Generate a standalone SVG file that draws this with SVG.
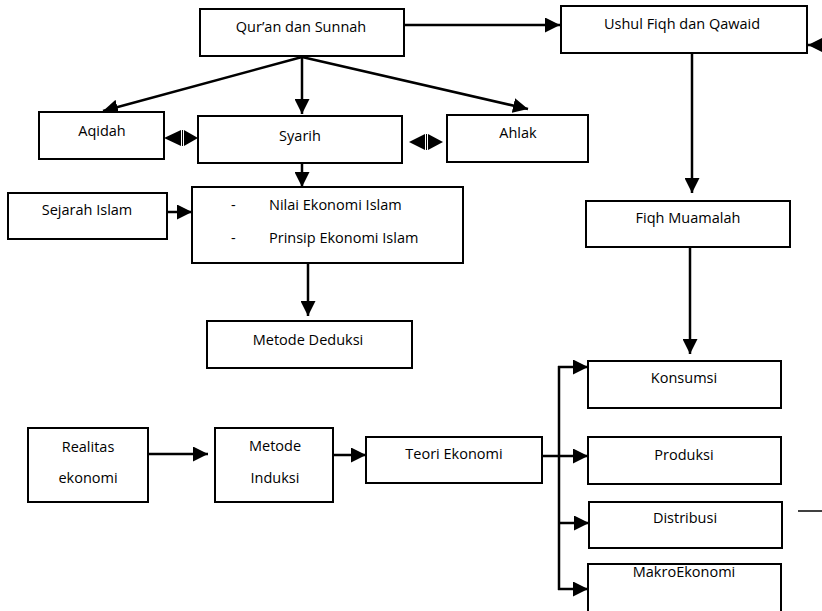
<svg xmlns="http://www.w3.org/2000/svg" width="822" height="611" viewBox="0 0 822 611">
<style>
.box{fill:#fff;stroke:#000;stroke-width:2}
.t{font-family:"Open Sans","Liberation Sans",sans-serif;font-size:14.5px;fill:#000;text-anchor:middle}
.tl{font-family:"Open Sans","Liberation Sans",sans-serif;font-size:14.5px;fill:#000}
.c{stroke:#000;stroke-width:2.5;fill:none}
.h{fill:#000}
</style>
<defs>
<marker id="ah" viewBox="0 0 10 10" refX="10" refY="5" markerWidth="15" markerHeight="15" markerUnits="userSpaceOnUse" orient="auto">
<path d="M0,0 L10,5 L0,10 z" fill="#000"/>
</marker>
</defs>
<rect width="822" height="611" fill="#fff"/>
<g id="connectors">
<line class="c" x1="405" y1="25" x2="560" y2="25" marker-end="url(#ah)"/>
<line class="c" x1="830" y1="45" x2="808" y2="45" marker-end="url(#ah)"/>
<line class="c" x1="302" y1="57" x2="103" y2="111" marker-end="url(#ah)"/>
<line class="c" x1="302" y1="57" x2="302" y2="114" marker-end="url(#ah)"/>
<line class="c" x1="302" y1="57" x2="528" y2="109" marker-end="url(#ah)"/>
<polygon class="h" points="164,138 181,130 181,146"/>
<polygon class="h" points="198,138 184,130 184,146"/>
<line stroke="#000" stroke-width="1" x1="182.5" y1="130" x2="182.5" y2="146"/>
<polygon class="h" points="409,142 425,134 425,150"/>
<polygon class="h" points="443,142 428,134 428,150"/>
<line stroke="#000" stroke-width="1" x1="426.5" y1="134" x2="426.5" y2="150"/>
<line class="c" x1="302" y1="163" x2="302" y2="187" marker-end="url(#ah)"/>
<line class="c" x1="167" y1="212" x2="192" y2="212" marker-end="url(#ah)"/>
<line class="c" x1="308" y1="263" x2="308" y2="316" marker-end="url(#ah)"/>
<line class="c" x1="692" y1="53" x2="692" y2="193" marker-end="url(#ah)"/>
<line class="c" x1="690" y1="247" x2="690" y2="354" marker-end="url(#ah)"/>
<line class="c" x1="148" y1="454" x2="208" y2="454" marker-end="url(#ah)"/>
<line class="c" x1="333" y1="455" x2="366" y2="455" marker-end="url(#ah)"/>
<line class="c" x1="542" y1="456" x2="588" y2="456" marker-end="url(#ah)"/>
<line class="c" x1="559" y1="366" x2="559" y2="590"/>
<line class="c" x1="558" y1="367" x2="588" y2="367" marker-end="url(#ah)"/>
<line class="c" x1="558" y1="523" x2="589" y2="523" marker-end="url(#ah)"/>
<line class="c" x1="558" y1="589" x2="588" y2="589" marker-end="url(#ah)"/>
<line stroke="#000" stroke-width="1.5" x1="798" y1="511" x2="822" y2="511"/>
</g>
<g id="quran"><rect class="box" x="200" y="9" width="204" height="47"/><text class="t" x="301" y="32">Qur’an dan Sunnah</text></g>
<g id="ushul"><rect class="box" x="561" y="6" width="246" height="47"/><text class="t" x="682" y="29">Ushul Fiqh dan Qawaid</text></g>
<g id="aqidah"><rect class="box" x="39" y="112" width="125" height="47"/><text class="t" x="102" y="136">Aqidah</text></g>
<g id="syarih"><rect class="box" x="198" y="116" width="204" height="47"/><text class="t" x="300" y="141">Syarih</text></g>
<g id="ahlak"><rect class="box" x="447" y="115" width="141" height="47"/><text class="t" x="518" y="138">Ahlak</text></g>
<g id="sejarah"><rect class="box" x="8" y="193" width="159" height="46"/><text class="t" x="87" y="215">Sejarah Islam</text></g>
<g id="nilai"><rect class="box" x="192" y="187" width="271" height="76"/><text class="tl" x="231" y="210">-</text><text class="tl" x="269" y="210">Nilai Ekonomi Islam</text><text class="tl" x="231" y="243">-</text><text class="tl" x="269" y="243">Prinsip Ekonomi Islam</text></g>
<g id="deduksi"><rect class="box" x="207" y="321" width="205" height="47"/><text class="t" x="308" y="345">Metode Deduksi</text></g>
<g id="fiqh"><rect class="box" x="586" y="201" width="204" height="46"/><text class="t" x="688" y="223">Fiqh Muamalah</text></g>
<g id="realitas"><rect class="box" x="28" y="428" width="120" height="74"/><text class="t" x="88" y="452">Realitas</text><text class="t" x="88" y="483">ekonomi</text></g>
<g id="induksi"><rect class="box" x="215" y="428" width="118" height="74"/><text class="t" x="275" y="451">Metode</text><text class="t" x="275" y="483">Induksi</text></g>
<g id="teori"><rect class="box" x="366" y="437" width="176" height="46"/><text class="t" x="454" y="459">Teori Ekonomi</text></g>
<g id="konsumsi"><rect class="box" x="588" y="361" width="193" height="47"/><text class="t" x="684" y="383">Konsumsi</text></g>
<g id="produksi"><rect class="box" x="588" y="437" width="193" height="47"/><text class="t" x="684" y="460">Produksi</text></g>
<g id="distribusi"><rect class="box" x="589" y="502" width="193" height="46"/><text class="t" x="685" y="523">Distribusi</text></g>
<g id="makro"><rect class="box" x="588" y="564" width="193" height="52"/><text class="t" x="684" y="577">MakroEkonomi</text></g>
</svg>
